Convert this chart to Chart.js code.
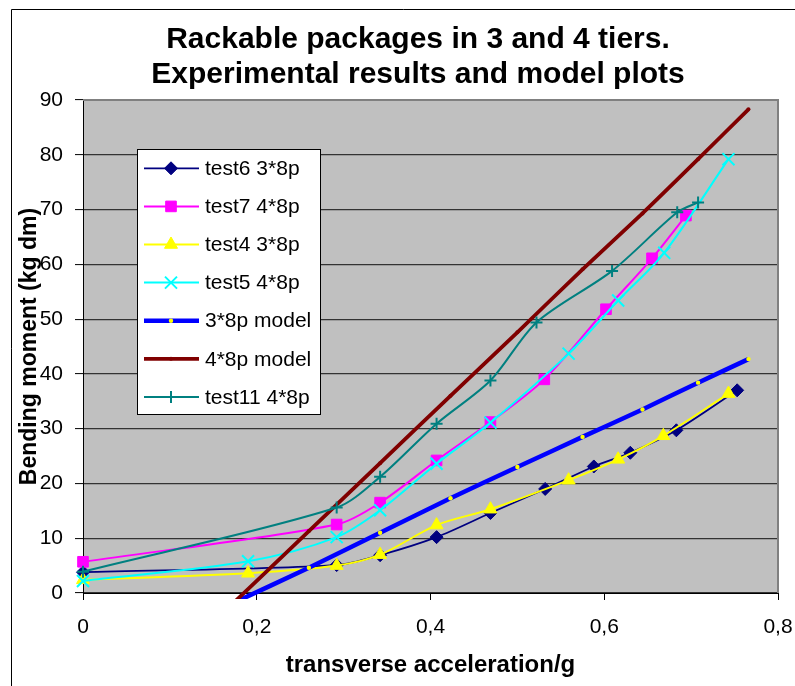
<!DOCTYPE html>
<html>
<head>
<meta charset="utf-8">
<script src="https://cdn.jsdelivr.net/npm/chart.js@4.4.1/dist/chart.umd.min.js"></script>
<style>
  html, body { margin: 0; padding: 0; background: #ffffff; }
  #wrap { width: 795px; height: 686px; position: relative; }
</style>
</head>
<body>
<div id="wrap"><canvas id="chart" width="795" height="686"></canvas></div>
<script>
// ---- Text ----
const titleLines = ['Rackable packages in 3 and 4 tiers.', 'Experimental results and model plots'];
const xAxisTitle = 'transverse acceleration/g';
const yAxisTitle = 'Bending moment (kg dm)';

// ---- Axis ticks ----
const xTickValues = [0, 0.2, 0.4, 0.6, 0.8];
const xTickLabels = ['0', '0,2', '0,4', '0,6', '0,8'];
const yTickValues = [0, 10, 20, 30, 40, 50, 60, 70, 80, 90];
const yTickLabels = ['0', '10', '20', '30', '40', '50', '60', '70', '80', '90'];

// ---- Series ----
const seriesNames = ['test6 3*8p', 'test7 4*8p', 'test4 3*8p', 'test5 4*8p', '3*8p model', '4*8p model', 'test11 4*8p'];

const test6X = [0, 0.292, 0.342, 0.407, 0.469, 0.532, 0.588, 0.630, 0.683, 0.753];
const test6Y = [3.8, 5.1, 6.9, 10.2, 14.6, 19.0, 23.1, 25.6, 29.7, 37.0];

const test7X = [0, 0.292, 0.342, 0.407, 0.469, 0.531, 0.602, 0.655, 0.694];
const test7Y = [5.7, 12.5, 16.5, 24.2, 31.2, 39.0, 51.8, 61.1, 68.9];

const test4X = [0, 0.19, 0.292, 0.342, 0.407, 0.469, 0.559, 0.616, 0.668, 0.743];
const test4Y = [2.4, 3.6, 5.0, 7.0, 12.4, 15.3, 20.6, 24.4, 28.7, 36.4];

const test5X = [0, 0.19, 0.292, 0.342, 0.407, 0.469, 0.559, 0.616, 0.669, 0.743];
const test5Y = [2.2, 5.8, 10.2, 15.1, 23.6, 31.1, 43.7, 53.4, 62.1, 79.2];

const modelX = [0.172, 0.26, 0.342, 0.423, 0.5, 0.575, 0.644, 0.708, 0.766];
const model3Y = [-1.9, 4.6, 11.0, 17.3, 23.0, 28.5, 33.5, 38.4, 42.7];
const model4Y = [-2.0, 11.3, 23.7, 36.0, 47.6, 59.1, 69.3, 79.2, 88.3];

const test11X = [0, 0.292, 0.342, 0.407, 0.469, 0.522, 0.609, 0.684, 0.708];
const test11Y = [3.9, 15.6, 21.2, 30.9, 38.8, 49.4, 58.8, 69.5, 71.3];

const pairs = (xs, ys) => xs.map((x, i) => ({ x: x, y: ys[i] }));

// ---- Styles ----
const FONT = '"Liberation Sans", Arial, sans-serif';
const styles = [
  { color: '#000080', fill: '#000080', width: 1.8, point: 'rectRot', radius: 6.5, pbw: 1 },
  { color: '#FF00FF', fill: '#FF00FF', width: 2, point: 'rect', radius: 7.5, pbw: 1 },
  { color: '#FFFF00', fill: '#FFFF00', width: 2, point: 'triangle', radius: 7.5, pbw: 1 },
  { color: '#00FFFF', fill: '#00FFFF', width: 2, point: 'crossRot', radius: 8.5, pbw: 2 },
  { color: '#0000FF', fill: '#FFFF00', width: 4.5, point: 'circle', radius: 2.2, pbw: 0, pcolor: '#FFFF00' },
  { color: '#800000', fill: '#800000', width: 3.8, point: 'circle', radius: 2, pbw: 0 },
  { color: '#008080', fill: '#008080', width: 2, point: 'cross', radius: 6, pbw: 2 }
];
const seriesData = [
  pairs(test6X, test6Y), pairs(test7X, test7Y), pairs(test4X, test4Y), pairs(test5X, test5Y),
  pairs(modelX, model3Y), pairs(modelX, model4Y), pairs(test11X, test11Y)
];
const isModel = [false, false, false, false, true, true, false];

const datasets = seriesData.map((d, i) => {
  const s = styles[i];
  return {
    label: seriesNames[i],
    data: d,
    borderColor: s.color,
    backgroundColor: s.fill,
    borderWidth: s.width,
    pointStyle: s.point,
    pointRadius: s.radius,
    pointHoverRadius: s.radius,
    pointBackgroundColor: s.fill,
    pointBorderColor: s.pcolor || s.color,
    pointBorderWidth: s.pbw,
    tension: isModel[i] ? 0.2 : 0.3,
    fill: false,
    order: seriesData.length - 1 - i,
    clip: isModel[i] ? { left: 0, top: 0, right: 0, bottom: 6 } : false
  };
});

// Background, frame, titles and legend box
const decorations = {
  id: 'decorations',
  beforeDraw(chart) {
    const ctx = chart.ctx, a = chart.chartArea;
    ctx.save();
    ctx.fillStyle = '#ffffff';
    ctx.fillRect(0, 0, chart.width, chart.height);
    ctx.strokeStyle = '#000000';
    ctx.lineWidth = 1;
    ctx.beginPath();
    ctx.moveTo(11.5, chart.height + 2);
    ctx.lineTo(11.5, 9.5);
    ctx.lineTo(chart.width + 2, 9.5);
    ctx.stroke();
    ctx.fillStyle = '#C0C0C0';
    ctx.fillRect(a.left, a.top, a.right - a.left, a.bottom - a.top);
    ctx.restore();
  },
  beforeDatasetsDraw(chart) {
    const ctx = chart.ctx, a = chart.chartArea;
    ctx.save();
    ctx.strokeStyle = '#808080';
    ctx.lineWidth = 2;
    ctx.beginPath();
    ctx.moveTo(a.left, a.top);
    ctx.lineTo(a.right, a.top);
    ctx.lineTo(a.right, a.bottom);
    ctx.stroke();
    ctx.restore();
  },
  afterDraw(chart) {
    const ctx = chart.ctx, a = chart.chartArea;
    ctx.save();
    ctx.fillStyle = '#000000';
    ctx.textAlign = 'center';
    ctx.textBaseline = 'middle';
    ctx.font = 'bold 30px ' + FONT;
    ctx.fillText(titleLines[0], 418, 40);
    ctx.fillText(titleLines[1], 418, 75);

    ctx.font = 'bold 24px ' + FONT;
    ctx.fillText(xAxisTitle, (a.left + a.right) / 2, 665);

    ctx.save();
    ctx.translate(30, (a.top + a.bottom) / 2);
    ctx.rotate(-Math.PI / 2);
    ctx.font = 'bold 23px ' + FONT;
    ctx.fillText(yAxisTitle, 0, 0);
    ctx.restore();

    // legend
    const box = { left: 137, top: 149, right: 321, bottom: 415 };
    ctx.fillStyle = '#ffffff';
    ctx.fillRect(box.left, box.top, box.right - box.left, box.bottom - box.top);
    ctx.strokeStyle = '#000000';
    ctx.lineWidth = 1;
    ctx.strokeRect(box.left + 0.5, box.top + 0.5, box.right - box.left - 1, box.bottom - box.top - 1);

    const rowTop = 168.3, rowStep = 38.1;
    ctx.font = '21px ' + FONT;
    ctx.textAlign = 'left';
    ctx.textBaseline = 'middle';
    chart.data.datasets.forEach((ds, i) => {
      const y = rowTop + i * rowStep;
      ctx.strokeStyle = ds.borderColor;
      ctx.lineWidth = ds.borderWidth;
      ctx.beginPath();
      ctx.moveTo(144, y);
      ctx.lineTo(199, y);
      ctx.stroke();
      ctx.fillStyle = ds.pointBackgroundColor;
      ctx.strokeStyle = ds.pointBorderColor;
      ctx.lineWidth = ds.pointBorderWidth;
      Chart.helpers.drawPoint(ctx, {
        pointStyle: ds.pointStyle, radius: ds.pointRadius, rotation: 0, borderWidth: ds.pointBorderWidth
      }, 171, y);
      ctx.fillStyle = '#000000';
      ctx.fillText(ds.label, 205, y + 1);
    });
    ctx.restore();
  }
};

new Chart(document.getElementById('chart'), {
  type: 'line',
  data: { datasets: datasets },
  options: {
    responsive: false,
    animation: false,
    devicePixelRatio: 1,
    layout: { padding: { top: 100, right: 17, bottom: 0, left: 0 } },
    plugins: { legend: { display: false }, title: { display: false }, tooltip: { enabled: false } },
    scales: {
      x: {
        type: 'linear',
        min: 0, max: 0.8,
        afterFit(scale) { scale.height = 93; scale.paddingLeft = 0; scale.paddingRight = 0; },
        afterBuildTicks(scale) { scale.ticks = xTickValues.map(v => ({ value: v })); },
        ticks: {
          callback: (v, i) => xTickLabels[i],
          color: '#000000',
          font: { family: FONT, size: 21 },
          padding: 15,
          maxRotation: 0
        },
        grid: { drawOnChartArea: false, drawTicks: true, tickLength: 7, tickColor: '#000000', tickWidth: 1 },
        border: { display: true, color: '#000000', width: 1 }
      },
      y: {
        type: 'linear',
        min: 0, max: 90,
        afterFit(scale) { scale.width = 83; scale.paddingTop = 0; scale.paddingBottom = 0; },
        afterBuildTicks(scale) { scale.ticks = yTickValues.map(v => ({ value: v })); },
        ticks: {
          callback: (v, i) => yTickLabels[i],
          color: '#000000',
          font: { family: FONT, size: 21 },
          padding: 12
        },
        grid: { color: '#333333', lineWidth: 1.2, drawTicks: true, tickLength: 8, tickColor: '#000000', tickWidth: 1 },
        border: { display: true, color: '#000000', width: 1 }
      }
    }
  },
  plugins: [decorations]
});
</script>
</body>
</html>
